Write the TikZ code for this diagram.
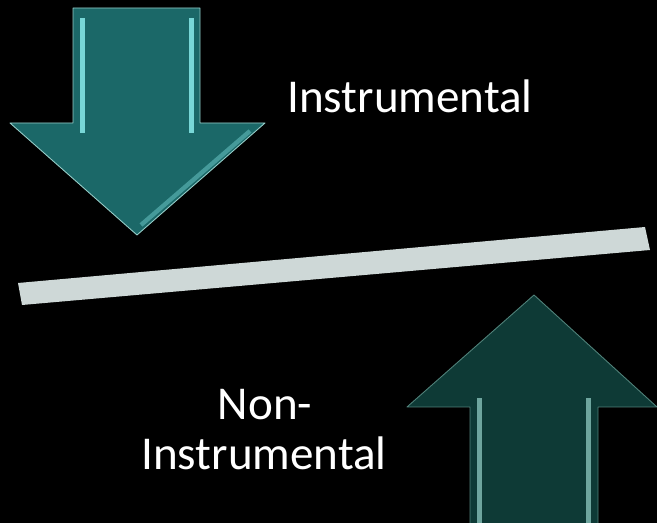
\documentclass[tikz,border=0pt]{standalone}
\usepackage{fontspec}
\setmainfont{Carlito}
\definecolor{downteal}{RGB}{27,104,104}
\definecolor{downedge}{RGB}{150,205,200}
\definecolor{downhl}{RGB}{120,215,215}
\definecolor{upteal}{RGB}{14,58,54}
\definecolor{upedge}{RGB}{80,130,122}
\definecolor{uphl}{RGB}{110,165,158}
\definecolor{barcol}{RGB}{206,216,215}
\tikzset{lbl/.style={text=white, font=\fontsize{26.8}{28.3}\selectfont, inner sep=0pt}}

\begin{document}
\begin{tikzpicture}[x=0.02cm,y=-0.02cm]
  % Background
  \fill[black] (0,0) rectangle (657,523);
  \useasboundingbox (0,0) rectangle (657,523);

  % Down arrow
  \fill[downteal, draw=downedge, line width=0.5pt, line join=round]
    (73,8) -- (200,8) -- (200,123) -- (265,123) -- (137,235) -- (10,123) -- (73,123) -- cycle;
  \fill[downhl] (80,18) rectangle (85,133);
  \fill[downhl] (189,18) rectangle (194,133);
  \draw[downhl!45!downteal, line width=2.5pt] (250,131) -- (141,225);

  % Lever
  \fill[barcol] (18,283) -- (645,227) -- (650,250) -- (22,305) -- cycle;

  % Up arrow
  \fill[upteal, draw=upedge, line width=0.5pt, line join=round]
    (534,295) -- (657,407) -- (598,407) -- (598,530) -- (470,530) -- (470,407) -- (407,407) -- cycle;
  \fill[uphl] (477,398) rectangle (482,523);
  \fill[uphl] (586,398) rectangle (591,523);

  % Labels
  \node[lbl, anchor=base] (instr) at (410,113) {Instrumental};
  \node[lbl, anchor=base] (non) at (265,420) {Non-};
  \node[lbl, anchor=base] (noninstr) at (264,470) {Instrumental};
\end{tikzpicture}
\end{document}
